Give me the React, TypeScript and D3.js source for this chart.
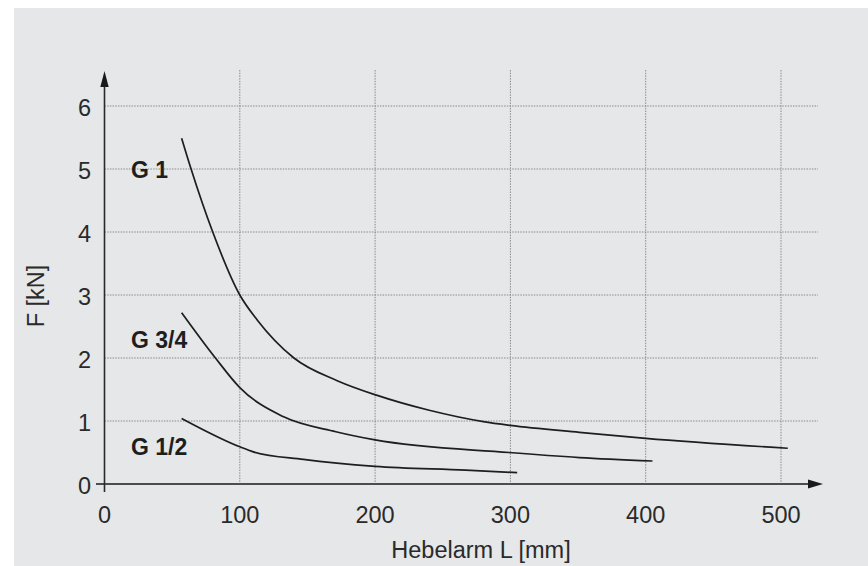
import React from "react";
import * as d3 from "d3";

const seriesNames = ["G 1", "G 3/4", "G 1/2"];

const g1L = [57, 64, 80, 100, 113, 140, 172, 201, 240, 280, 300, 351, 400, 505];
const g1F = [5.49, 5.0, 4.0, 3.0, 2.6, 2.0, 1.64, 1.41, 1.17, 0.99, 0.93, 0.82, 0.725, 0.567];

const g34L = [57, 82, 100, 132, 171, 200, 299, 351, 405];
const g34F = [2.72, 2.0, 1.53, 1.07, 0.83, 0.7, 0.5, 0.42, 0.365];

const g12L = [57, 100, 110, 147, 200, 267, 305];
const g12F = [1.04, 0.59, 0.51, 0.39, 0.28, 0.22, 0.18];

const xTicks = [0, 100, 200, 300, 400, 500];
const yTicks = [0, 1, 2, 3, 4, 5, 6];

const labelL = [20, 20, 20];
const labelF = [4.86, 2.16, 0.46];

const W = 868;
const H = 566;
const FONT = "Arial, 'Liberation Sans', Helvetica, sans-serif";

export default function App() {
  const x = d3.scaleLinear().domain([0, 500]).range([104.5, 781]);
  const y = d3.scaleLinear().domain([0, 6]).range([484, 106]);

  const series = [
    g1L.map((l, i) => [l, g1F[i]]),
    g34L.map((l, i) => [l, g34F[i]]),
    g12L.map((l, i) => [l, g12F[i]]),
  ];

  const line = d3
    .line<number[]>()
    .x((d) => x(d[0]))
    .y((d) => y(d[1]))
    .curve(d3.curveMonotoneX);

  const x0 = x(0);
  const y0 = y(0);
  const gridRight = 818;
  const gridTop = 70;
  const yArrowTip = 71;
  const xArrowTip = 823;

  return (
    <svg
      width={W}
      height={H}
      style={{ position: "absolute", left: 0, top: 0, display: "block" }}
      fontFamily={FONT}
    >
      <rect x={0} y={0} width={W} height={H} fill="#ffffff" />
      <rect x={14} y={8} width={W - 14} height={H - 8} fill="#e6e7e8" />

      {yTicks
        .filter((t) => t > 0)
        .map((t) => (
          <line
            key={"hg" + t}
            x1={x0}
            x2={gridRight}
            y1={y(t)}
            y2={y(t)}
            stroke="#8a8a8a"
            strokeWidth={1}
            strokeDasharray="1.5,1.2"
          />
        ))}
      {xTicks
        .filter((t) => t > 0)
        .map((t) => (
          <line
            key={"vg" + t}
            x1={x(t)}
            x2={x(t)}
            y1={gridTop}
            y2={y0}
            stroke="#8a8a8a"
            strokeWidth={1}
            strokeDasharray="1.5,1.2"
          />
        ))}

      <line x1={96} x2={xArrowTip - 10} y1={y0} y2={y0} stroke="#4d4d4d" strokeWidth={2} />
      <polygon
        points={`${xArrowTip},${y0} ${xArrowTip - 15},${y0 - 4.5} ${xArrowTip - 15},${y0 + 4.5}`}
        fill="#1a1a1a"
      />
      <line x1={x0} x2={x0} y1={y0 + 8} y2={yArrowTip + 10} stroke="#2a2a2a" strokeWidth={1.6} />
      <polygon
        points={`${x0},${yArrowTip} ${x0 - 4.2},${yArrowTip + 16} ${x0 + 4.2},${yArrowTip + 16}`}
        fill="#1a1a1a"
      />

      {yTicks.map((t) => (
        <text
          key={"yl" + t}
          x={91}
          y={y(t) + 9.5}
          textAnchor="end"
          fontSize={23.5}
          fill="#2a2a2a"
        >
          {t}
        </text>
      ))}
      {xTicks.map((t) => (
        <text
          key={"xl" + t}
          x={x(t)}
          y={523}
          textAnchor="middle"
          fontSize={23.5}
          fill="#2a2a2a"
        >
          {t}
        </text>
      ))}

      <text x={481} y={558} textAnchor="middle" fontSize={23.5} fill="#2a2a2a">
        Hebelarm L [mm]
      </text>
      <text
        transform={`translate(43.5, 296) rotate(-90)`}
        textAnchor="middle"
        fontSize={23.5}
        fill="#2a2a2a"
      >
        F [kN]
      </text>

      {series.map((s, i) => (
        <path
          key={"c" + i}
          d={line(s) || ""}
          fill="none"
          stroke="#1e1e1e"
          strokeWidth={1.7}
        />
      ))}

      {seriesNames.map((n, i) => (
        <text
          key={"sl" + i}
          x={x(labelL[i]) - 0.5}
          y={y(labelF[i])}
          fontSize={23}
          fontWeight="bold"
          fill="#1e1e1e"
        >
          {n}
        </text>
      ))}
    </svg>
  );
}
